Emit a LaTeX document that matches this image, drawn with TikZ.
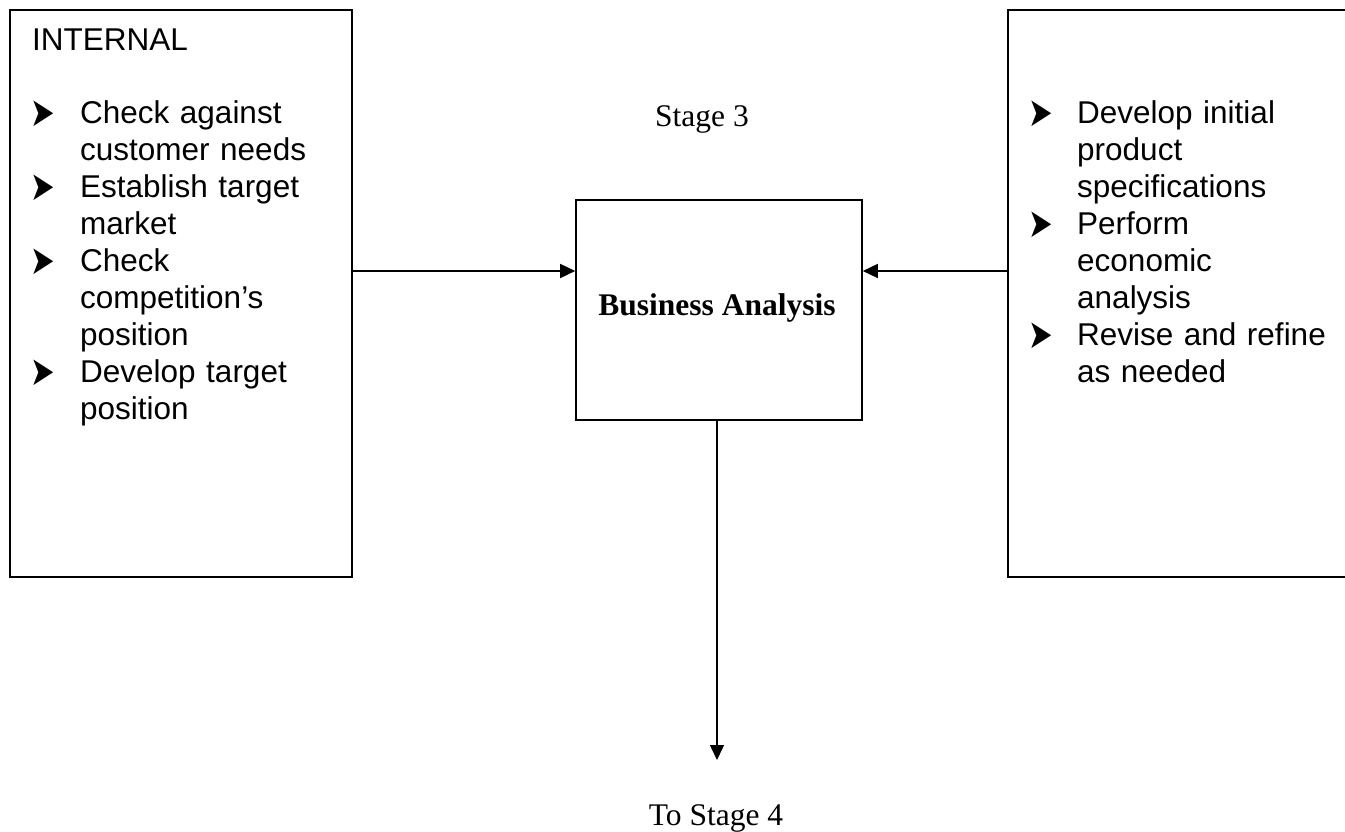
\documentclass[tikz,border=0pt]{standalone}
\usepackage{fontspec}
\setmainfont{Liberation Serif}
\newfontfamily\arialfont{Liberation Sans}
\newfontfamily\symfont{DejaVu Sans}
\usetikzlibrary{arrows.meta}

\newcommand{\listmark}{\scalebox{1.05}[1.45]{➤}}

\tikzset{
  panel/.style={draw, line width=1.6pt, rectangle, inner sep=0pt},
  listtext/.style={font=\arialfont\fontsize{31.5}{37}\selectfont, align=left,
                   text width=300pt, anchor=base west, inner sep=0pt},
  bul/.style={font=\symfont\fontsize{28}{28}\selectfont, anchor=center, inner sep=0pt},
  serif/.style={font=\fontsize{31.5}{37}\selectfont, anchor=base, inner sep=0pt},
  arr/.style={line width=1.5pt, -{Triangle[length=15pt,width=14pt]}},
}

\begin{document}
\begin{tikzpicture}[x=1pt, y=-1pt]
\useasboundingbox (0,0) rectangle (1345,832);
\clip (0,0) rectangle (1345,832);

% side panels and the central stage box
\node[panel, minimum width=342pt, minimum height=567pt] (left) at (181,293.5) {};
\node[panel, minimum width=360pt, minimum height=567pt] (right) at (1188,293.5) {};
\node[panel, minimum width=286pt, minimum height=220pt] (ba) at (719,310) {};
\node[serif, font=\bfseries\fontsize{31.5}{37}\selectfont] (batext) at (717,315) {Business Analysis};

% stage captions
\node[serif] (stage3) at (702,127) {Stage 3};
\node[serif] (stage4) at (716,825) {To Stage 4};

% internal checks
\node[listtext] (inttitle) at (32,51) {INTERNAL};
\node[bul] (lb1) at (43,113.5) {\listmark};
\node[bul] (lb2) at (43,187.5) {\listmark};
\node[bul] (lb3) at (43,261.5) {\listmark};
\node[bul] (lb4) at (43,372.5) {\listmark};
\node[listtext] (lefttext) at (80,124) {Check against\\customer needs\\Establish target\\market\\Check\\competition’s\\position\\Develop target\\position};

% product work items
\node[bul] (rb1) at (1041,113.5) {\listmark};
\node[bul] (rb2) at (1041,224.5) {\listmark};
\node[bul] (rb3) at (1041,335.5) {\listmark};
\node[listtext] (righttext) at (1077,124) {Develop initial\\product\\specifications\\Perform\\economic\\analysis\\Revise and refine\\as needed};

% connectors
\coordinate (inL) at ([yshift=39pt]ba.west);
\coordinate (inR) at ([yshift=39pt]ba.east);
\coordinate (outD) at (717,760);
\draw[arr] (left.east |- inL) -- (inL);
\draw[arr] (right.west |- inR) -- (inR);
\draw[arr] (outD |- ba.south) -- (outD);
\end{tikzpicture}
\end{document}
